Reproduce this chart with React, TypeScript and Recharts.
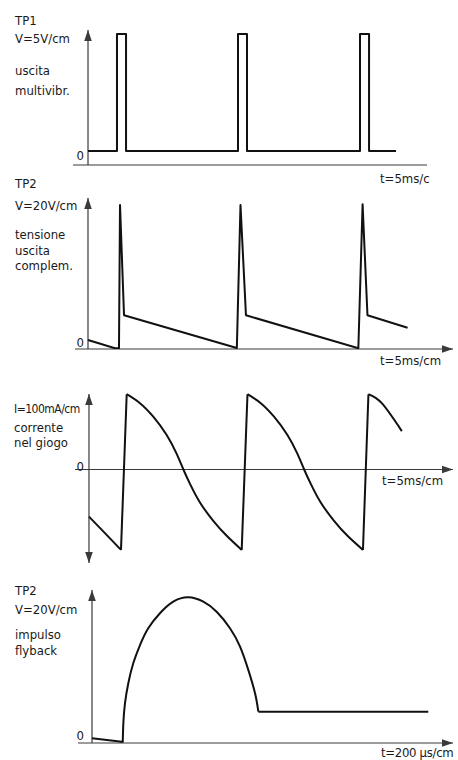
import React from "react";
import { LineChart, Line, XAxis, YAxis, ReferenceLine } from "recharts";

// TP1 - multivibrator output (t in ms, V in volts)
const tp1Time = [0, 4.77, 4.77, 6.26, 6.26, 24.69, 24.69, 26.17, 26.17, 44.77, 44.77, 46.26, 46.26, 50.7];
const tp1Volt = [0, 0, 19.5, 19.5, 0, 0, 19.5, 19.5, 0, 0, 19.5, 19.5, 0, 0];

// TP2 - complementary output voltage
const tp2Time = [0, 4.44, 5.1, 5.27, 5.93, 24.5, 25.1, 26.0, 44.5, 45.2, 46.0, 52.6];
const tp2Volt = [6, 0.5, 0.5, 96, 22.5, 0.7, 96, 22.5, 0.5, 96.5, 22.5, 14.2];

// yoke current (t in ms, I in mA)
const yokeTime = [
  0, 2.63, 5.27,
  6.21, 8.4, 10.58, 12.79, 14.44, 15.54, 16.63, 18.27, 20.46, 22.67, 25.14,
  26.09, 28.28, 30.46, 32.67, 34.32, 35.42, 36.51, 38.15, 40.34, 42.55, 45.1,
  46.0, 48.2, 51.5,
];
const yokeCurrent = [
  -157, -212, -268,
  251, 221, 176, 115, 52, 0, -48, -110, -171, -221, -268,
  251, 221, 176, 115, 52, 0, -48, -110, -171, -221, -268,
  251, 221, 128,
];
// indices where the retrace (fast rise) happens: [from, to]
const yokeRetrace = [[2, 3], [13, 14], [24, 25]];

// flyback pulse (t in us, V in volts)
const leadTime = [0, 198, 205];
const leadVolt = [3.1, 0.9, 0.3];
const archTime = [205, 209, 220, 242, 275, 320, 375, 453, 542, 642, 742, 831, 920, 987, 1042, 1087, 1109];
const archVolt = [0.3, 13.1, 26.5, 39.8, 53.1, 65.3, 76.5, 86.5, 94.2, 97.1, 94.2, 87.5, 76.5, 64.2, 48.7, 33.1, 20.9];
const tailTime = [1109, 2242];
const tailVolt = [20.9, 20.9];

const panel1Labels = ["TP1", "V=5V/cm", "uscita", "multivibr."];
const panel2Labels = ["TP2", "V=20V/cm", "tensione", "uscita", "complem."];
const panel3Labels = ["I=100mA/cm", "corrente", "nel giogo"];
const panel4Labels = ["TP2", "V=20V/cm", "impulso", "flyback"];
const timeLabels = ["t=5ms/c", "t=5ms/cm", "t=5ms/cm", "t=200 \u03bcs/cm"];

const zip = (xs: number[], ys: number[]) => xs.map((t, i) => ({ t, v: ys[i] }));
const slice = (xs: number[], ys: number[], a: number, b: number) => zip(xs.slice(a, b + 1), ys.slice(a, b + 1));

const W = 458;
const H = 760;
const AXIS = "#3a3a3a";
const INK = "#111";
const FONT = "'DejaVu Sans Condensed', 'DejaVu Sans', sans-serif";

const head = (x: number, y: number, a: number, key: string) => {
  const L = 11;
  const w = 3.8;
  const bx = x - L * Math.cos(a);
  const by = y - L * Math.sin(a);
  const pts = [
    `${x},${y}`,
    `${bx + w * Math.sin(a)},${by - w * Math.cos(a)}`,
    `${bx - w * Math.sin(a)},${by + w * Math.cos(a)}`,
  ].join(" ");
  return <polygon key={key} points={pts} fill={AXIS} />;
};

const axisShape = (arrowEnd: boolean, arrowStart = false) => (p: any) => {
  const { x1, y1, x2, y2 } = p;
  const a = Math.atan2(y2 - y1, x2 - x1);
  return (
    <g>
      <line x1={x1} y1={y1} x2={x2} y2={y2} stroke={AXIS} strokeWidth={1.2} />
      {arrowEnd && head(x2, y2, a, "e")}
      {arrowStart && head(x1, y1, a + Math.PI, "s")}
    </g>
  );
};

type Box = { left: number; right: number; top: number; bottom: number };

const Panel = ({
  box,
  xDomain,
  yDomain,
  children,
}: {
  box: Box;
  xDomain: [number, number];
  yDomain: [number, number];
  children: React.ReactNode;
}) => (
  <div style={{ position: "absolute", left: 0, top: 0 }}>
    <LineChart
      width={W}
      height={H}
      margin={{ top: box.top, bottom: H - box.bottom, left: box.left, right: W - box.right }}
    >
      <XAxis type="number" dataKey="t" domain={xDomain} allowDataOverflow hide />
      <YAxis type="number" dataKey="v" domain={yDomain} allowDataOverflow hide />
      {children}
    </LineChart>
  </div>
);

const wave = (data: { t: number; v: number }[], type: "linear" | "natural", key: string) => (
  <Line
    key={key}
    data={data}
    dataKey="v"
    type={type}
    stroke={INK}
    strokeWidth={2}
    strokeLinejoin="round"
    dot={false}
    activeDot={false}
    isAnimationActive={false}
  />
);

const textStyle: React.CSSProperties = {
  fontFamily: FONT,
  fontSize: 13,
  fill: "#1a1a1a",
};

export default function App() {
  // yoke current: straight retrace lines, curved scan segments
  const yokeLines: React.ReactNode[] = [wave(slice(yokeTime, yokeCurrent, 0, 2), "linear", "y-lead")];
  yokeRetrace.forEach(([a, b], i) => {
    yokeLines.push(wave(slice(yokeTime, yokeCurrent, a, b), "linear", "y-r" + i));
    const end = i + 1 < yokeRetrace.length ? yokeRetrace[i + 1][0] : yokeTime.length - 1;
    yokeLines.push(wave(slice(yokeTime, yokeCurrent, b, end), "natural", "y-s" + i));
  });

  return (
    <div style={{ position: "absolute", left: 0, top: 0, width: W, height: H, background: "#fff", overflow: "hidden" }}>
      {/* TP1 */}
      <Panel box={{ left: 73, right: 427, top: 28, bottom: 165 }} xDomain={[-2.47, 55.8]} yDomain={[-2.33, 20.5]}>
        <ReferenceLine segment={[{ x: -2.47, y: -2.33 }, { x: 55.8, y: -2.33 }]} ifOverflow="visible" shape={axisShape(false)} />
        <ReferenceLine segment={[{ x: 0, y: -2.33 }, { x: 0, y: 20.17 }]} ifOverflow="visible" shape={axisShape(true)} />
        {wave(zip(tp1Time, tp1Volt), "linear", "tp1")}
      </Panel>

      {/* TP2 */}
      <Panel box={{ left: 75, right: 453, top: 196, bottom: 349 }} xDomain={[-2.14, 60.08]} yDomain={[0, 102]}>
        <ReferenceLine segment={[{ x: -2.14, y: 0 }, { x: 60.08, y: 0 }]} ifOverflow="visible" shape={axisShape(true)} />
        <ReferenceLine segment={[{ x: 0, y: 0 }, { x: 0, y: 100.7 }]} ifOverflow="visible" shape={axisShape(true)} />
        {wave(zip(tp2Time, tp2Volt), "linear", "tp2")}
      </Panel>

      {/* yoke current */}
      <Panel box={{ left: 75, right: 453, top: 392, bottom: 564 }} xDomain={[-2.3, 59.92]} yDomain={[-315, 258.3]}>
        <ReferenceLine segment={[{ x: -2.3, y: 0 }, { x: 59.92, y: 0 }]} ifOverflow="visible" shape={axisShape(true)} />
        <ReferenceLine segment={[{ x: 0, y: -311.7 }, { x: 0, y: 251.7 }]} ifOverflow="visible" shape={axisShape(true, true)} />
        {yokeLines}
      </Panel>

      {/* flyback */}
      <Panel box={{ left: 78, right: 453, top: 588, bottom: 743 }} xDomain={[-93.3, 2406.7]} yDomain={[0, 103.3]}>
        <ReferenceLine segment={[{ x: -93.3, y: 0 }, { x: 2406.7, y: 0 }]} ifOverflow="visible" shape={axisShape(true)} />
        <ReferenceLine segment={[{ x: 0, y: 0 }, { x: 0, y: 102 }]} ifOverflow="visible" shape={axisShape(true)} />
        {wave(zip(leadTime, leadVolt), "linear", "lead")}
        {wave(zip(archTime, archVolt), "natural", "arch")}
        {wave(zip(tailTime, tailVolt), "linear", "tail")}
      </Panel>

      <svg width={W} height={H} style={{ position: "absolute", left: 0, top: 0 }}>
        {panel1Labels.map((s, i) => (
          <text key={"a" + i} x={15} y={[25, 43, 75, 95][i]} style={textStyle}>{s}</text>
        ))}
        {panel2Labels.map((s, i) => (
          <text key={"b" + i} x={15} y={[188, 210, 239, 255, 270][i]} style={textStyle}>{s}</text>
        ))}
        {panel3Labels.map((s, i) => (
          <text
            key={"c" + i}
            x={14}
            y={[413, 432, 447][i]}
            style={i === 0 ? { ...textStyle, fontSize: 12, letterSpacing: -0.5 } : textStyle}
          >
            {s}
          </text>
        ))}
        {panel4Labels.map((s, i) => (
          <text key={"d" + i} x={15} y={[595, 614, 639, 655][i]} style={textStyle}>{s}</text>
        ))}
        {[160, 347, 471, 740].map((y, i) => (
          <text key={"z" + i} x={84} y={y} textAnchor="end" style={textStyle}>0</text>
        ))}
        {timeLabels.map((s, i) => (
          <text key={"t" + i} x={[380, 380, 382, 381][i]} y={[183, 365, 485, 757][i]} style={{ ...textStyle, letterSpacing: i === 3 ? -0.3 : 0 }}>{s}</text>
        ))}
      </svg>
    </div>
  );
}
